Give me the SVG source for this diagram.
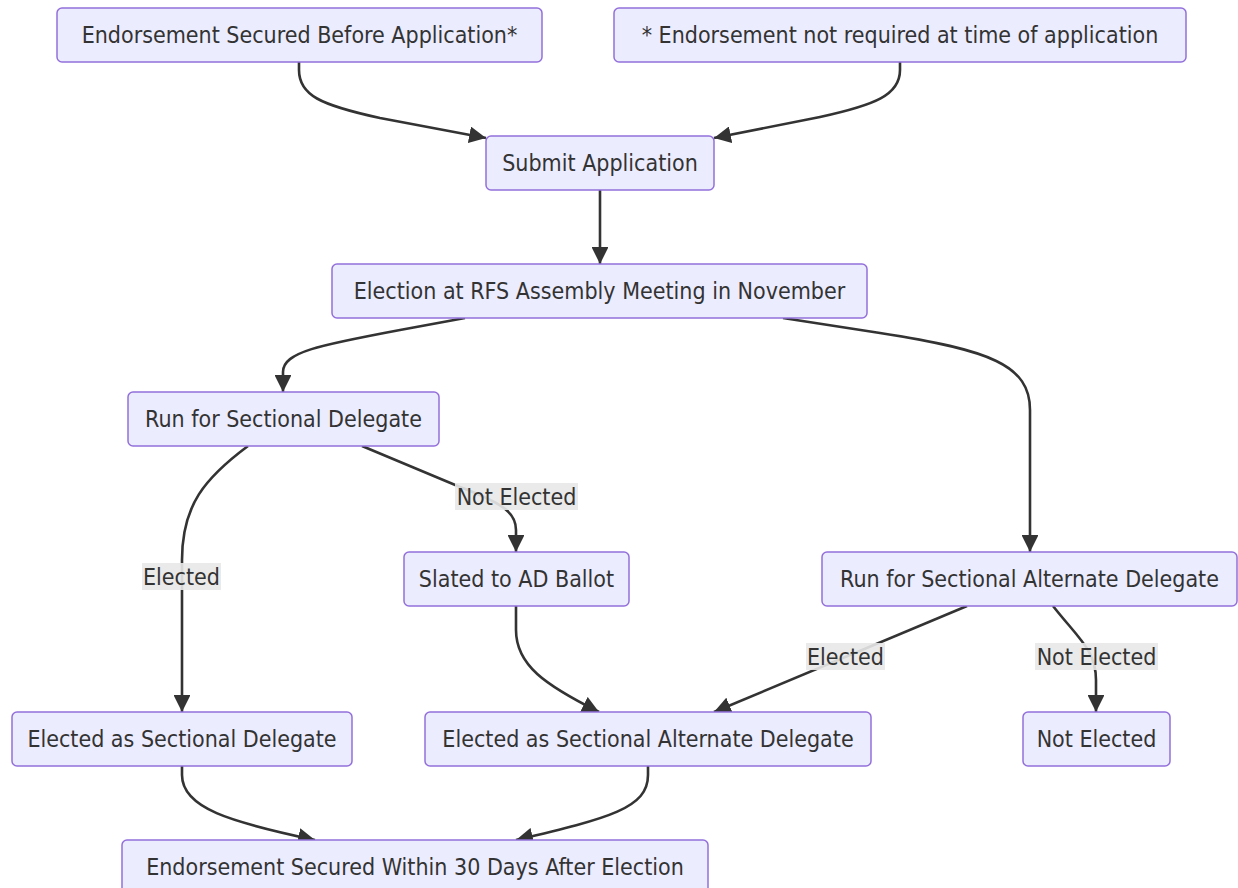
<svg xmlns="http://www.w3.org/2000/svg" width="1238" height="888" viewBox="0 0 1238 888">
<defs>
<marker id="arr" viewBox="0 0 10 10" refX="10" refY="5" markerWidth="6.5" markerHeight="6.5" markerUnits="strokeWidth" orient="auto">
<path d="M0,0 L10,5 L0,10 z" fill="#333"/>
</marker>
<style>
.node rect{fill:#ECECFF;stroke:#9370DB;stroke-width:1.5}
.node text,.lbl text{font-family:"DejaVu Sans Condensed","DejaVu Sans",sans-serif;font-stretch:condensed;font-size:23px;fill:#333;text-anchor:middle;dominant-baseline:central}
.edges path{fill:none;stroke:#333;stroke-width:2.6;marker-end:url(#arr)}
.lbl rect{fill:#e8e8e8;opacity:0.9}
</style>
</defs>
<rect width="1238" height="888" fill="#fff"/>
<g class="edges">
<path d="M299,62 L299,70 C299,95 320,105 380,118 L486,138"/>
<path d="M900,62 L900,70 C900,95 875,105 820,117 L714,138"/>
<path d="M600,190 L600,264"/>
<path d="M465,318 L400,330 C320,345 283,352 283,372 L283,392"/>
<path d="M783,318 L880,333 C990,350 1030,365 1030,410 L1030,552"/>
<path d="M248,446 C205,478 182,505 182,560 L182,712"/>
<path d="M362,446 L460,487 C508,505 516,515 516,530 L516,552"/>
<path d="M516,606 L516,630 C516,665 545,685 599,712"/>
<path d="M967,606 L714,712"/>
<path d="M1053,606 C1078,638 1096,650 1096,680 L1096,712"/>
<path d="M182,766 L182,775 C182,808 230,822 315,840"/>
<path d="M648,766 L648,775 C648,808 610,818 516,840"/>
</g>
<g class="lbl">
<rect x="455" y="483" width="123" height="27"/><text x="516.5" y="496.5">Not Elected</text>
<rect x="142" y="563" width="79" height="27"/><text x="181.5" y="576.5">Elected</text>
<rect x="806" y="643" width="79" height="27"/><text x="845.5" y="656.5">Elected</text>
<rect x="1035" y="643" width="123" height="27"/><text x="1096.5" y="656.5">Not Elected</text>
</g>
<g id="n1" class="node"><rect x="57" y="8" width="485" height="54" rx="5"/><text x="299.5" y="35">Endorsement Secured Before Application*</text></g>
<g id="n2" class="node"><rect x="614" y="8" width="572" height="54" rx="5"/><text x="900" y="35">* Endorsement not required at time of application</text></g>
<g id="n3" class="node"><rect x="486" y="136" width="228" height="54" rx="5"/><text x="600" y="163">Submit Application</text></g>
<g id="n4" class="node"><rect x="332" y="264" width="535" height="54" rx="5"/><text x="599.5" y="291">Election at RFS Assembly Meeting in November</text></g>
<g id="n5" class="node"><rect x="128" y="392" width="311" height="54" rx="5"/><text x="283.5" y="419">Run for Sectional Delegate</text></g>
<g id="n6" class="node"><rect x="404" y="552" width="225" height="54" rx="5"/><text x="516.5" y="579">Slated to AD Ballot</text></g>
<g id="n7" class="node"><rect x="822" y="552" width="415" height="54" rx="5"/><text x="1029.5" y="579">Run for Sectional Alternate Delegate</text></g>
<g id="n8" class="node"><rect x="12" y="712" width="340" height="54" rx="5"/><text x="182" y="739">Elected as Sectional Delegate</text></g>
<g id="n9" class="node"><rect x="425" y="712" width="446" height="54" rx="5"/><text x="648" y="739">Elected as Sectional Alternate Delegate</text></g>
<g id="n10" class="node"><rect x="1023" y="712" width="147" height="54" rx="5"/><text x="1096.5" y="739">Not Elected</text></g>
<g id="n11" class="node"><rect x="122" y="840" width="586" height="54" rx="5"/><text x="415" y="867">Endorsement Secured Within 30 Days After Election</text></g>
</svg>
